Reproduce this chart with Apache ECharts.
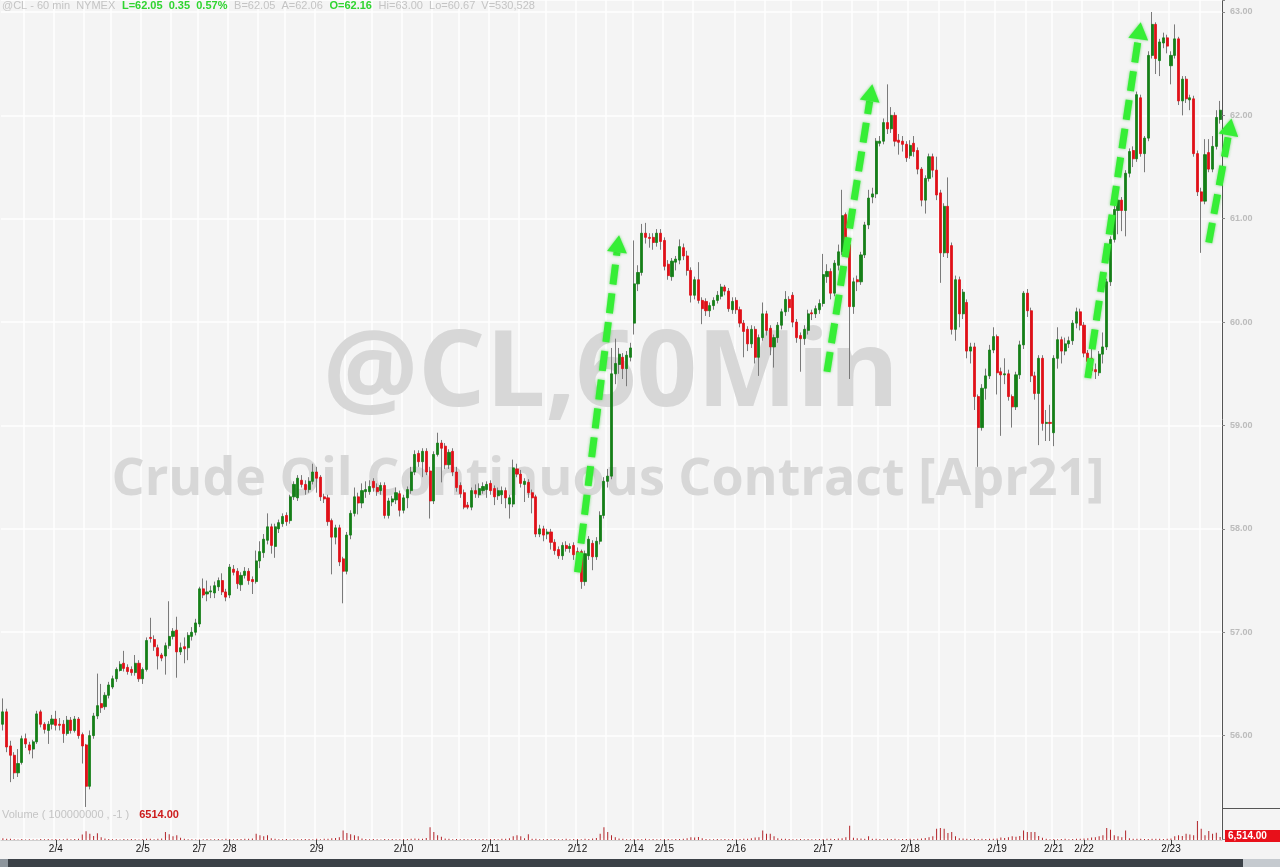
<!DOCTYPE html>
<html><head><meta charset="utf-8">
<script src="https://cdn.jsdelivr.net/npm/echarts/dist/echarts.min.js"></script>
<style>html,body{margin:0;padding:0;background:#f4f4f4;}#c{width:1280px;height:867px;}</style>
</head><body><div id="c"></div>
<script>
// ---- data: hourly candles [open, close, low, high] ----
const ohlcFeb3_4 = [
[56.11,56.23,56.05,56.36],[56.23,55.89,55.84,56.26],[55.90,55.81,55.55,55.95],[55.81,55.64,55.58,55.84],[55.64,55.73,55.60,55.87],
[55.74,55.97,55.72,56.00],[55.97,55.92,55.88,56.02],[55.91,55.86,55.82,55.94],[55.87,55.94,55.78,55.96],[55.94,56.21,55.92,56.24],
[56.23,56.11,56.08,56.25],[56.11,56.06,56.02,56.13],[56.05,56.11,55.92,56.14],[56.11,56.16,56.06,56.20],[56.16,56.10,56.05,56.24],
[56.11,56.10,56.05,56.17],[56.11,56.02,55.93,56.15],[56.02,56.15,56.00,56.19],[56.15,56.05,56.02,56.18],[56.05,56.16,56.03,56.19],
[56.16,56.00,55.97,56.18],[56.01,55.90,55.73,56.03],[55.91,55.51,55.31,55.92],[55.51,56.00,55.48,56.05],[56.00,56.19,55.97,56.22],
[56.19,56.29,56.16,56.60],[56.31,56.27,56.22,56.50],[56.28,56.39,56.25,56.42],[56.39,56.49,56.36,56.52],[56.47,56.55,56.45,56.58],
[56.55,56.64,56.52,56.66],[56.63,56.69,56.62,56.72],[56.70,56.65,56.62,56.82],[56.66,56.62,56.59,56.69],[56.64,56.61,56.58,56.67],
[56.61,56.70,56.58,56.78],[56.70,56.55,56.52,56.73]
];
const ohlcFeb5_8 = [
[56.55,56.64,56.50,56.66],[56.64,56.92,56.62,56.95],[56.95,56.94,56.90,57.14],[56.93,56.86,56.82,56.97],[56.85,56.77,56.64,56.88],
[56.78,56.75,56.72,56.80],[56.77,56.87,56.59,56.90],[56.87,56.96,56.84,57.30],[56.96,57.01,56.93,57.04],[57.02,56.81,56.56,57.15],
[56.81,56.85,56.78,56.90],[56.86,56.84,56.70,56.95],[56.85,56.97,56.73,57.00],[56.96,57.00,56.92,57.05],[57.00,57.09,56.97,57.13],
[57.08,57.42,57.05,57.44],[57.42,57.36,57.33,57.52],[57.37,57.39,57.30,57.50],[57.39,57.40,57.33,57.45],[57.38,57.45,57.33,57.49],
[57.44,57.50,57.40,57.53],[57.50,57.39,57.36,57.57],[57.39,57.34,57.30,57.42],
[57.36,57.63,57.33,57.66],[57.61,57.58,57.55,57.65],[57.59,57.47,57.42,57.62],[57.46,57.55,57.40,57.58],[57.55,57.59,57.52,57.63],
[57.59,57.50,57.46,57.62],[57.51,57.49,57.37,57.54],[57.49,57.69,57.47,57.79],[57.69,57.78,57.62,57.88],[57.77,57.90,57.72,57.95],
[57.89,58.02,57.85,58.15],[58.02,57.84,57.76,58.05],[57.83,58.02,57.72,58.05],[58.00,58.06,57.96,58.09],[58.05,58.12,58.02,58.15],
[58.13,58.07,58.03,58.16],[58.08,58.31,58.05,58.33],[58.31,58.43,58.28,58.46],[58.30,58.49,58.27,58.52],[58.47,58.43,58.40,58.52],
[58.43,58.38,58.33,58.47],[58.38,58.46,58.35,58.50],[58.46,58.55,58.43,58.63]
];
const ohlcFeb9_11 = [
[58.55,58.49,58.35,58.60],[58.50,58.31,58.27,58.52],[58.31,58.29,58.25,58.34],[58.30,58.07,58.03,58.33],[58.08,57.92,57.56,58.10],
[57.92,58.01,57.85,58.04],[58.01,57.68,57.64,58.04],[57.71,57.59,57.28,57.73],[57.59,57.94,57.56,57.97],[57.94,58.15,57.90,58.18],
[58.15,58.31,58.12,58.40],[58.31,58.25,58.14,58.35],[58.25,58.37,58.20,58.44],[58.36,58.38,58.30,58.46],[58.36,58.41,58.33,58.47],
[58.46,58.40,58.36,58.49],[58.40,58.36,58.32,58.44],[58.37,58.42,58.33,58.45],[58.42,58.13,58.10,58.45],[58.13,58.27,58.10,58.30],
[58.26,58.29,58.22,58.32],[58.28,58.35,58.24,58.40],[58.34,58.18,58.12,58.37],[58.18,58.30,58.15,58.33],[58.30,58.38,58.20,58.41],
[58.37,58.55,58.34,58.60],[58.55,58.72,58.52,58.76],[58.73,58.65,58.60,58.76],[58.65,58.75,58.50,58.78],[58.75,58.55,58.52,58.78],
[58.56,58.27,58.10,58.60],[58.27,58.72,58.24,58.75],[58.72,58.83,58.70,58.93],[58.83,58.78,58.45,58.86],[58.80,58.62,58.58,58.83],
[58.62,58.74,58.58,58.77],[58.75,58.55,58.51,58.78],[58.55,58.40,58.36,58.60],[58.42,58.34,58.30,58.45],[58.35,58.21,58.19,58.38],
[58.23,58.21,58.19,58.26],[58.21,58.37,58.18,58.40],[58.37,58.34,58.30,58.43],[58.33,58.39,58.30,58.44],[58.37,58.41,58.34,58.45],
[58.38,58.43,58.30,58.46]
];
const ohlcFeb11_14 = [
[58.44,58.37,58.33,58.47],[58.39,58.31,58.23,58.42],[58.32,58.37,58.28,58.40],[58.33,58.37,58.24,58.41],[58.37,58.30,58.20,58.40],
[58.24,58.30,58.10,58.33],[58.24,58.59,58.21,58.67],[58.58,58.53,58.50,58.63],[58.53,58.44,58.40,58.57],[58.43,58.46,58.26,58.49],
[58.45,58.35,58.30,58.48],[58.35,58.30,58.15,58.38],[58.31,57.95,57.92,58.33],[57.95,58.00,57.92,58.04],[58.00,57.94,57.88,58.03],
[57.95,57.97,57.90,58.00],[57.97,57.87,57.80,58.00],[57.87,57.79,57.75,57.90],[57.80,57.74,57.71,57.83],[57.74,57.84,57.70,57.87],
[57.84,57.81,57.78,57.88],[57.81,57.83,57.77,57.86],[57.84,57.75,57.70,57.87],
[57.78,57.74,57.70,57.82],[57.78,57.49,57.42,57.80],[57.49,57.76,57.45,57.79],[57.74,57.90,57.70,57.93],[57.86,57.73,57.60,57.89],
[57.73,57.88,57.70,57.92],[57.88,58.13,57.85,58.17],[58.13,58.46,58.10,58.50],[58.46,58.51,58.40,58.58],[58.51,59.50,58.48,59.75],
[59.50,59.60,59.40,59.84],[59.59,59.69,59.50,59.75],[59.66,59.55,59.45,59.70],[59.55,59.68,59.38,59.72],[59.66,59.75,59.62,59.80]
];
const ohlcFeb14_16 = [
[59.99,60.37,59.88,60.79],[60.37,60.48,60.30,60.55],[60.48,60.86,60.45,60.95],[60.86,60.82,60.76,60.96],[60.82,60.81,60.72,60.86],
[60.82,60.77,60.70,60.86],[60.77,60.86,60.73,60.90],[60.86,60.78,60.70,60.90],[60.79,60.54,60.50,60.82],[60.56,60.45,60.41,60.60],
[60.44,60.59,60.40,60.62],[60.58,60.61,60.50,60.64],[60.60,60.73,60.56,60.80],[60.72,60.64,60.60,60.76],[60.64,60.50,60.45,60.69],
[60.50,60.26,60.19,60.53],[60.26,60.41,60.22,60.44],[60.41,60.21,60.18,60.58],[60.21,60.13,59.98,60.24],[60.20,60.11,60.06,60.23],
[60.11,60.16,60.05,60.19],[60.16,60.21,60.12,60.24],[60.21,60.26,60.18,60.30],[60.25,60.34,60.22,60.37],[60.34,60.30,60.26,60.36],
[60.30,60.13,60.10,60.33],[60.12,60.20,60.08,60.24],[60.21,60.12,60.08,60.24],[60.12,59.99,59.95,60.15],[59.99,59.91,59.66,60.02],
[59.93,59.79,59.72,59.96],[59.79,59.93,59.75,59.97],[59.93,59.66,59.60,59.96],[59.66,59.85,59.48,59.88],[59.85,60.08,59.82,60.19],
[60.08,59.92,59.87,60.11],[59.94,59.76,59.68,59.97],[59.76,59.85,59.56,59.88],[59.85,59.97,59.80,60.00],[59.97,60.10,59.93,60.13],
[60.10,60.22,60.06,60.30],[60.22,60.14,60.10,60.25],[60.26,60.00,59.95,60.29],[60.00,59.85,59.80,60.03],[59.87,59.84,59.52,59.90],
[59.84,59.93,59.78,59.97],[59.92,60.08,59.88,60.12],[60.09,60.08,60.02,60.12],[60.08,60.13,60.04,60.16],[60.12,60.18,60.08,60.22]
];
const ohlcFeb17_18 = [
[60.18,60.46,60.15,60.66],[60.44,60.49,60.38,60.56],[60.49,60.28,60.22,60.52],[60.28,60.57,60.25,60.60],[60.55,60.68,60.50,60.75],
[60.68,61.03,60.65,61.28],[61.04,60.75,60.70,61.06],[60.75,60.15,59.45,60.78],[60.15,60.39,60.08,60.43],[60.41,60.39,60.30,60.45],
[60.39,60.65,60.36,60.68],[60.65,60.94,60.62,60.97],[60.94,61.20,60.90,61.28],[61.21,61.24,61.15,61.30],[61.24,61.75,61.20,61.78],
[61.73,61.75,61.70,61.80],[61.75,61.93,61.72,61.97],[61.93,61.87,61.82,62.30],[61.87,62.00,61.83,62.08],[62.00,61.75,61.70,62.03],
[61.76,61.74,61.62,61.82],[61.75,61.72,61.65,61.80],[61.72,61.59,61.55,61.75],
[61.61,61.71,61.58,61.76],[61.73,61.65,61.60,61.80],[61.66,61.48,61.43,61.69],[61.48,61.18,61.12,61.50],[61.18,61.39,61.05,61.42],
[61.39,61.60,61.36,61.63],[61.60,61.47,61.40,61.63],[61.47,61.23,61.18,61.60],[61.25,60.67,60.38,61.28],[60.67,61.12,60.63,61.15],
[61.12,60.67,60.62,61.40],[60.74,59.93,59.88,60.77],[59.93,60.41,59.82,60.45],[60.41,60.08,59.95,60.44],[60.08,60.29,60.03,60.32],
[60.19,59.72,59.65,60.22],[59.72,59.76,59.60,59.80],[59.76,59.28,59.15,59.80],[59.28,58.98,58.60,59.30],[58.98,59.36,58.95,59.40],
[59.36,59.48,59.25,59.55],[59.48,59.73,59.45,59.78],[59.73,59.86,59.70,59.95]
];
const ohlcFeb19_22 = [
[59.86,59.51,59.30,59.88],[59.52,59.49,58.90,59.56],[59.49,59.50,59.40,59.65],[59.50,59.28,59.24,59.54],[59.28,59.18,58.98,59.30],
[59.18,59.49,59.15,59.52],[59.49,59.78,59.45,59.82],[59.78,60.28,59.74,60.30],[60.28,60.11,60.05,60.32],[60.11,59.48,59.42,60.14],
[59.48,59.31,59.25,59.52],[59.31,59.65,58.81,59.68],[59.65,59.02,58.95,59.68],[59.02,59.03,58.85,59.15],[59.03,59.02,58.85,59.20],
[58.93,59.65,58.80,59.68],[59.65,59.83,59.55,59.95],[59.83,59.72,59.60,59.86],[59.72,59.79,59.68,59.85],[59.79,59.82,59.75,59.86],
[59.82,59.99,59.78,60.02],[59.99,60.10,59.94,60.14],[60.10,59.97,59.92,60.13],
[59.97,59.70,59.66,60.00],[59.70,59.62,59.55,59.73],[59.65,59.53,59.49,59.80],[59.54,59.52,59.45,59.60],[59.51,59.69,59.48,59.72],
[59.69,59.76,59.60,59.90],[59.76,60.39,59.73,60.42],[60.39,60.80,60.35,60.83],[60.80,61.09,60.77,61.20],[61.08,61.18,60.85,61.25],
[61.18,61.08,60.88,61.21],[61.08,61.44,60.83,61.47],[61.44,61.65,61.40,61.68],[61.66,61.58,61.50,61.70],[61.58,62.20,61.55,62.23],
[62.17,61.63,61.60,62.20],[61.63,61.78,61.45,61.80],[61.78,62.58,61.75,62.62],[62.58,62.88,62.55,63.00],[62.88,62.55,62.40,62.90],
[62.53,62.71,62.38,62.74],[62.70,62.75,62.65,62.80],[62.75,62.67,62.60,62.78]
];
const ohlcFeb23 = [
[62.48,62.58,62.30,62.62],[62.58,62.74,62.55,62.88],[62.74,62.14,62.10,62.76],[62.14,62.35,62.00,62.38],[62.35,62.16,62.12,62.38],
[62.15,62.17,62.05,62.20],[62.16,61.63,61.60,62.19],[61.63,61.26,61.22,61.66],[61.26,61.17,60.67,61.30],[61.17,61.62,61.14,61.77],
[61.64,61.48,61.45,61.77],[61.48,61.70,61.45,61.80],[61.70,61.98,61.67,62.05],[61.96,62.05,61.92,62.14]
];
// hourly volume (contracts)
const volume = [
4000,3000,2600,1500,1200,2000,1000,1800,1200,1000,
2200,1500,2000,1600,2400,1800,1700,2600,1500,2000,
3000,12000,19500,14000,9000,15000,6000,3500,2200,1800,
1500,1200,2400,1600,2000,1800,1300,2200,2600,3000,
1800,2500,3200,17500,12500,8500,10500,5000,2500,1800,
1500,1200,1000,1400,2000,1600,1800,2200,1500,2600,
2000,1800,2400,2000,2800,3000,3500,14000,10500,8500,
10500,4000,2500,1800,1500,2000,1200,2200,1600,1800,
2400,2000,1500,2500,1800,2600,3000,3800,4500,6000,
21000,15500,12500,10500,8500,3500,2000,1500,2200,1800,
1200,2000,1600,2200,1500,1800,2400,2000,2600,3200,
2500,3000,4500,28000,17500,10500,7000,3500,2500,1800,
2000,1500,2200,1800,1600,2400,1500,2000,1700,2200,
2000,1500,2500,3000,4000,8500,10500,8500,4000,12500,
3000,2500,1800,1500,2200,1600,2000,1400,1800,2500,
1500,2000,2400,1800,2600,2200,3500,4500,14000,28000,
17500,10500,6000,3500,2500,1800,1500,2000,2200,1800,
2500,1500,2000,1600,1800,2400,2000,1500,2200,2000,
3000,4000,6000,5500,6500,4000,2000,1500,1800,2200,
1600,2000,1500,2400,1800,2000,2500,3000,4000,5500,
6000,21000,14000,14000,8000,4000,3000,2500,2000,1800,
1500,2200,1600,2000,1500,1800,2400,2000,2500,3000,
2200,3500,4000,6000,31500,5000,4000,3500,3000,8500,
3000,2500,2000,1800,2500,2000,3000,1500,2200,2000,
2500,2000,3000,3500,4500,6000,8500,24500,26500,24500,
15500,17500,8000,4000,3500,2500,2000,3000,2200,2500,
2000,2600,3000,3500,5500,4500,6000,8000,7000,9000,
21000,17500,17500,17500,9000,5000,2500,1800,2200,1500,
2000,2500,1800,2200,3000,2500,3500,4000,5500,6000,
8000,10500,26500,22500,10500,8500,6000,21000,4000,3000,
2500,3000,2200,2000,2800,2500,3000,2000,2600,3500,
8500,10500,9000,14000,12000,10500,42000,24500,10500,20000,
14000,16000,6514
];
// date tick labels and the candle index at which each appears
const dayLabels = ['2/4','2/5','2/7','2/8','2/9','2/10','2/11','2/12','2/14','2/15','2/16','2/17','2/18','2/19','2/21','2/22','2/23'];
const dayIndex  = [14,37,52,60,83,106,129,152,167,175,194,217,240,263,278,286,309];
// annotation arrows: [fromCandle, fromPrice, toCandle, toPrice]
const arrows = [[152,57.58,163,60.84],[218,59.52,230,62.30],[287,59.46,301,62.90],[319,60.77,325,61.97]];
const headerText = '@CL - 60 min  NYMEX';
const lastText = ['L=62.05', '0.35', '0.57%'];
const bidAsk = 'B=62.05  A=62.06';
const openText = 'O=62.16';
const rangeText = 'Hi=63.00  Lo=60.67  V=530,528';
const lastVolumeText = '6514.00';
const lastVolumeBox = '6,514.00';

// ---- build ----
const ohlc = [].concat(ohlcFeb3_4, ohlcFeb5_8, ohlcFeb9_11, ohlcFeb11_14, ohlcFeb14_16, ohlcFeb17_18, ohlcFeb19_22, ohlcFeb23);
const categories = ohlc.map((_, i) => String(i));
const labelMap = new Map(dayIndex.map((d, k) => [d, dayLabels[k]]));
const gridSet = new Set([6]);
dayIndex.forEach((d, k) => {
  const next = k + 1 < dayIndex.length ? dayIndex[k + 1] : ohlc.length;
  for (let g = d; g < next - 4; g += 23 / 3) gridSet.add(Math.round(g));
});
const bodies = ohlc.map(([o, c]) => [o, c, Math.min(o, c), Math.max(o, c)]);

const chart = echarts.init(document.getElementById('c'));
const FONT = 'Liberation Sans, Arial, sans-serif';
chart.setOption({
  animation: false,
  backgroundColor: '#f4f4f4',
  grid: [
    {left: 1, right: 58, top: 0, height: 839},
    {left: 1, right: 58, top: 820, height: 20}
  ],
  xAxis: [
    {type: 'category', gridIndex: 0, data: categories, boundaryGap: true,
     axisLine: {show: false}, axisTick: {show: false}, axisLabel: {show: false},
     splitLine: {show: true, interval: (i) => gridSet.has(i), lineStyle: {color: '#ffffff', width: 1.5}}},
    {type: 'category', gridIndex: 1, data: categories, boundaryGap: true,
     axisLine: {show: true, lineStyle: {color: '#cfcfcf'}},
     axisTick: {show: true, alignWithLabel: true, interval: (i) => labelMap.has(i), length: 5, lineStyle: {color: '#444'}},
     axisLabel: {show: true, interval: (i) => labelMap.has(i), formatter: (v, i) => labelMap.get(i) || '',
                 color: '#111', fontSize: 10, margin: 4, fontFamily: FONT},
     splitLine: {show: false}}
  ],
  yAxis: [
    {type: 'value', gridIndex: 0, position: 'right', min: 55, max: 63.116, interval: 1,
     axisLine: {show: true, lineStyle: {color: '#555'}},
     axisTick: {show: true, length: 3, lineStyle: {color: '#888'}},
     axisLabel: {color: '#bcbcbc', fontSize: 9, fontWeight: 'bold', margin: 8, fontFamily: FONT,
                 formatter: (v) => (Math.abs(v - Math.round(v)) < 1e-6 && v > 55.5) ? v.toFixed(2) : ''},
     splitLine: {show: true, lineStyle: {color: '#ffffff', width: 1.5}}},
    {type: 'value', gridIndex: 1, min: 0, max: 44000, show: false}
  ],
  series: [
    {type: 'candlestick', name: 'wick', xAxisIndex: 0, yAxisIndex: 0, data: ohlc, barWidth: 1, z: 3,
     itemStyle: {color: '#7a7a7a', color0: '#7a7a7a', borderColor: '#7a7a7a', borderColor0: '#7a7a7a', borderWidth: 1}},
    {type: 'candlestick', name: 'body', xAxisIndex: 0, yAxisIndex: 0, data: bodies, barWidth: 2.6, z: 4,
     itemStyle: {color: '#157f18', color0: '#e01018', borderColor: '#157f18', borderColor0: '#e01018', borderWidth: 0.8}},
    {type: 'bar', name: 'volume', xAxisIndex: 1, yAxisIndex: 1, data: volume, barWidth: 1,
     itemStyle: {color: '#b3262b'}}
  ]
});

// ---- graphics (annotations, watermark, header) ----
const g = [];
g.push({type: 'text', x: 611, y: 376, z: 1, silent: true,
  style: {text: '@CL,60Min', fill: '#d7d7d7', fontSize: 106, fontWeight: 'bold', fontFamily: 'Open Sans', align: 'center', verticalAlign: 'middle'}});
g.push({type: 'text', x: 608, y: 480, z: 1, silent: true,
  style: {text: 'Crude Oil Continuous Contract [Apr21]', fill: '#d7d7d7', fontSize: 52, fontWeight: 'bold', fontFamily: 'Open Sans', align: 'center', verticalAlign: 'middle'}});
g.push({type: 'text', x: 2, y: 0, z: 20,
  style: {text: '{g|' + headerText + '}  {n|' + lastText.join('  ') + '}  {g|' + bidAsk + '}  {n|' + openText + '}  {g|' + rangeText + '}',
    rich: {g: {fill: '#c4c4c4', fontSize: 11, fontFamily: FONT}, n: {fill: '#2fd42f', fontSize: 11, fontWeight: 'bold', fontFamily: FONT}}}});
g.push({type: 'text', x: 2, y: 809, z: 20,
  style: {text: '{g|Volume ( 100000000 , -1 )}   {r|' + lastVolumeText + '}',
    rich: {g: {fill: '#c4c4c4', fontSize: 11, fontFamily: FONT}, r: {fill: '#cc1b1b', fontSize: 11, fontWeight: 'bold', fontFamily: FONT}}}});
// right side separators and footer bar
g.push({type: 'line', z: 20, shape: {x1: 1222, y1: 808.5, x2: 1280, y2: 808.5}, style: {stroke: '#555', lineWidth: 1}});
g.push({type: 'rect', z: 20, shape: {x: 0, y: 859, width: 1280, height: 8}, style: {fill: '#3b4147'}});
g.push({type: 'rect', z: 21, shape: {x: 0, y: 859, width: 8, height: 8}, style: {fill: '#8d959c'}});
g.push({type: 'rect', z: 21, shape: {x: 1243, y: 859, width: 37, height: 8}, style: {fill: '#c5cacf'}});
const vPix = chart.convertToPixel({xAxisIndex: 1, yAxisIndex: 1}, [ohlc.length - 1, volume[volume.length - 1]]);
g.push({type: 'text', x: 1225, y: vPix[1] - 1, z: 22,
  style: {text: lastVolumeBox, fill: '#ffffff', fontSize: 10, fontWeight: 'bold', fontFamily: FONT,
          backgroundColor: '#e8101a', padding: [1, 16, 1, 3], verticalAlign: 'middle'}});
// arrows
arrows.forEach(([x0, p0, x1, p1]) => {
  const a = chart.convertToPixel({xAxisIndex: 0, yAxisIndex: 0}, [x0, p0]);
  const b = chart.convertToPixel({xAxisIndex: 0, yAxisIndex: 0}, [x1, p1]);
  const dx = b[0] - a[0], dy = b[1] - a[1], len = Math.hypot(dx, dy);
  const ux = dx / len, uy = dy / len, px = -uy, py = ux;
  const L = 17, W = 10;
  const bx = b[0] - ux * L, by = b[1] - uy * L;
  g.push({type: 'line', z: 30, silent: true, shape: {x1: a[0], y1: a[1], x2: bx, y2: by},
    style: {stroke: '#36ee36', lineWidth: 7, lineDash: [20, 9], shadowBlur: 3, shadowColor: 'rgba(40,200,40,0.6)'}});
  g.push({type: 'polygon', z: 30, silent: true,
    shape: {points: [[b[0], b[1]], [bx + px * W, by + py * W], [bx - px * W, by - py * W]]},
    style: {fill: '#36ee36', shadowBlur: 3, shadowColor: 'rgba(40,200,40,0.6)'}});
});
chart.setOption({graphic: g});
</script></body></html>
